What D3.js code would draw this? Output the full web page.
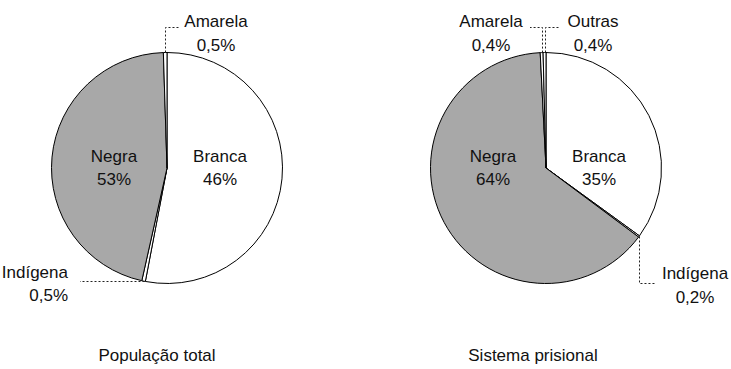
<!DOCTYPE html>
<html>
<head>
<meta charset="utf-8">
<script src="https://cdn.jsdelivr.net/npm/d3@7"></script>
<style>
body{margin:0;background:#fff}
text{font-family:"Liberation Sans",Arial,sans-serif;font-size:17px;fill:#111}
</style>
</head>
<body>
<svg></svg>
<script>
// População total
var popNames = ['Branca','Indígena','Negra','Amarela']
var popLabels = ['46%','0,5%','53%','0,5%']
// wedge sizes as they are drawn in the source figure
// (there Branca and Negra wedges are drawn with each other's numbers)
var popDrawn = [53, 0.5, 46, 0.5]

// Sistema prisional
var prisonNames = ['Branca','Indígena','Negra','Amarela','Outras']
var prisonLabels = ['35%','0,2%','64%','0,4%','0,4%']
var prisonValues = [35, 0.2, 64, 0.4, 0.4]

var titles = ['População total','Sistema prisional']

var screen = {width:731, height:369}
var R = 115.5
var gray = '#a8a8a8'
var lineH = 22.5

var svg = d3.select('svg')
  .attr('width',screen.width)
  .attr('height',screen.height)

var pies = [
  {cx:167, cy:168, names:popNames, values:popDrawn, labels:popLabels, title:titles[0], titleX:157,
   callouts:{
     'Amarela': {dir:'up', elbowY:27, endX:179, tx:216, ty:27, anchor:'middle'},
     'Indígena':{dir:'side', endX:80, tx:68, ty:277.5, anchor:'end'}
   }},
  {cx:546, cy:168, names:prisonNames, values:prisonValues, labels:prisonLabels, title:titles[1], titleX:533,
   callouts:{
     'Amarela': {dir:'up', elbowY:27, endX:530, tx:491, ty:27, anchor:'middle'},
     'Outras':  {dir:'up', elbowY:27, endX:560, tx:593, ty:27, anchor:'middle'},
     'Indígena':{dir:'down', elbowY:283, endX:655, tx:695, ty:279, anchor:'middle'}
   }}
]

var arc = d3.arc().innerRadius(0).outerRadius(R)
var snap = function(v){return Math.round(v)+0.5}

pies.forEach(function(p){
  var slices = d3.pie().sort(null).value(function(d){return d})(p.values)
  var g = svg.append('g').attr('transform','translate('+p.cx+','+p.cy+')')

  g.selectAll('path')
    .data(slices)
    .enter()
    .append('path')
    .attr('d',arc)
    .attr('fill',function(d,i){return p.names[i]=='Negra' ? gray : '#fff'})
    .attr('stroke','#000')
    .attr('stroke-width',1)
    .attr('stroke-linejoin','round')

  slices.forEach(function(s,i){
    var name = p.names[i]
    var mid = (s.startAngle+s.endAngle)/2
    if (s.value >= 10){
      // big slices: label beside the centre
      var side = Math.sin(mid) > 0 ? 1 : -1
      var t = g.append('text')
        .attr('text-anchor','middle')
      t.append('tspan').attr('x',side*53).attr('y',-6).text(name)
      t.append('tspan').attr('x',side*53).attr('y',-6+lineH).text(p.labels[i])
      return
    }
    var c = p.callouts[name]
    if (!c) return
    var px = snap(p.cx + R*Math.sin(mid))
    var py = p.cy - R*Math.cos(mid)
    var pts
    if (c.dir=='up' || c.dir=='down') pts = [[px,py],[px,snap(c.elbowY)],[c.endX,snap(c.elbowY)]]
    else pts = [[px,snap(py)],[c.endX,snap(py)]]
    svg.append('path')
      .attr('d',d3.line()(pts))
      .attr('fill','none')
      .attr('stroke','#222')
      .attr('stroke-width',1)
      .attr('stroke-dasharray','2,2')
    var t2 = svg.append('text').attr('text-anchor',c.anchor)
    t2.append('tspan').attr('x',c.tx).attr('y',c.ty).text(name)
    t2.append('tspan').attr('x',c.tx).attr('y',c.ty+lineH+1).text(p.labels[i])
  })

  svg.append('text')
    .attr('x',p.titleX)
    .attr('y',361)
    .attr('text-anchor','middle')
    .text(p.title)
})
</script>
</body>
</html>
